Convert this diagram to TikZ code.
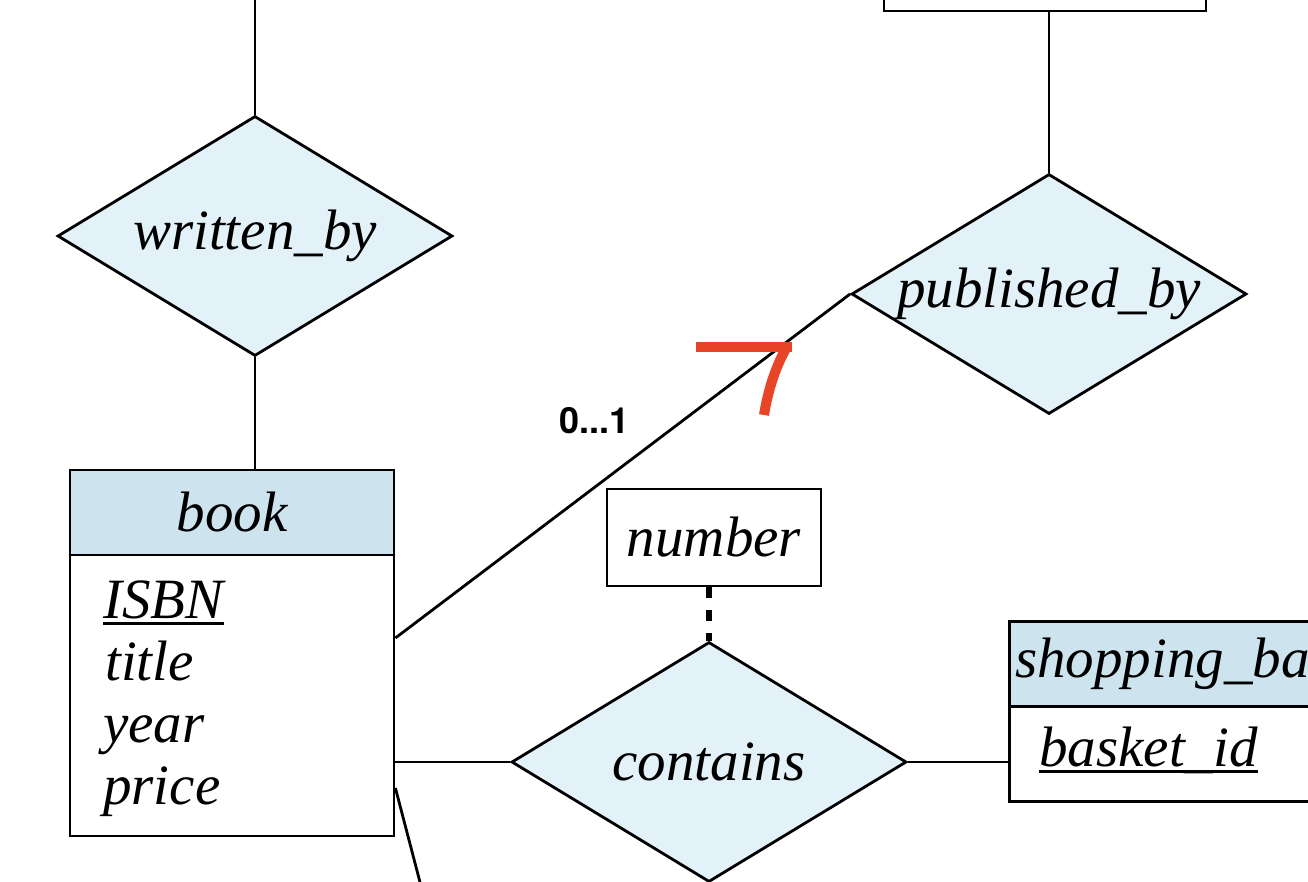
\documentclass[tikz,border=0pt]{standalone}
\usepackage{fontspec}
\newfontfamily\herosfont{TeX Gyre Heros}
\newfontfamily\erfont{Liberation Serif}
\usetikzlibrary{shapes.geometric}
\definecolor{relfill}{RGB}{227,241,248}
\definecolor{entfill}{RGB}{205,228,239}
\definecolor{markred}{RGB}{232,68,40}
\newcommand{\myul}[1]{\setbox0\hbox{#1}\rlap{\rule[-6.5pt]{\wd0}{2.4pt}}\box0}
\begin{document}
\begin{tikzpicture}[x=1pt,y=-1pt,
  txt/.style={font=\erfont\itshape\fontsize{57}{66}\selectfont},
  rel/.style={txt, shape=diamond, draw, line width=2.8pt, fill=relfill,
    minimum width=395pt, minimum height=240pt, inner sep=0pt, shape aspect=1.646},
  enthead/.style={draw, line width=2.8pt, fill=entfill, minimum height=85pt, inner sep=0pt},
  entbody/.style={draw, line width=2.8pt, fill=white, inner sep=0pt},
  attrbox/.style={draw, line width=2.8pt, fill=white, inner sep=0pt},
  attr/.style={txt, anchor=base west, inner sep=0pt},
  conn/.style={line width=2.8pt},
  dotconn/.style={line width=5.5pt, dash pattern=on 11pt off 12pt},
  cardlbl/.style={font=\herosfont\bfseries\fontsize{36}{40}\selectfont, inner sep=0pt},
  redmark/.style={draw=markred, line width=10pt},
]
\useasboundingbox (0,0) rectangle (1308,882);
\clip (0,0) rectangle (1308,882);

% relationships
\node[rel] (wb) at (255,236) {written\_by};
\node[rel] (pb) at (1049,294) {published\_by};
\node[rel] (ct) at (709,762) {contains};

% book entity
\node[enthead, txt, minimum width=324pt] (bookh) at (232,512.5) {book};
\node[entbody, minimum width=324pt, minimum height=281pt] (bookb) at (232,695.5) {};
\node[attr] (isbn) at (103,618) {\myul{ISBN}};
\node[attr] (title) at (105,680) {title};
\node[attr] (year) at (103,742) {year};
\node[attr] (price) at (103,804) {price};

% publisher entity (cut off at top)
\node[entbody, minimum width=322pt, minimum height=80pt] (pubent) at (1045,-29) {};

% shopping basket entity (cut off at right)
\node[enthead, minimum width=400pt, anchor=north west] (sbh) at (1008,620) {};
\node[txt, anchor=base west, inner sep=0pt] (sbl) at (1015,677) {shopping\_basket};
\node[entbody, minimum width=400pt, minimum height=95pt, anchor=north west] (sbb) at (1008,705) {};
\node[attr] (bid) at (1039,766) {\myul{basket\_id}};

% relationship attribute
\node[attrbox, txt, minimum width=214pt, minimum height=97pt] (num) at (714,537.5) {number};

% cardinality label
\node[cardlbl] (card) at (594.5,420.5) {0...1};

% connectors
\coordinate (wbtop) at (255,-5);
\coordinate (bottomend) at (421,886);
\draw[conn] (wbtop) -- (wb.north);
\draw[conn] (wb.south) -- (wb.south |- bookh.north);
\draw[conn] (pubent.south -| pb.north) -- (pb.north);
\draw[conn] ([yshift=57.5pt]bookb.east) -- (pb.west);
\draw[conn] ([yshift=-66.5pt]bookb.east) -- (ct.west);
\draw[conn] (ct.east) -- (ct.east -| sbb.west);
\draw[conn] ([yshift=-92.5pt]bookb.east) -- (bottomend);
\draw[dotconn] (num.south -| ct.north) -- (ct.north);

% hand-drawn red mark
\draw[redmark] (696,347) -- (792,347);
\draw[redmark] (788,345) .. controls (776,365) and (768,390) .. (764,415);
\end{tikzpicture}
\end{document}
